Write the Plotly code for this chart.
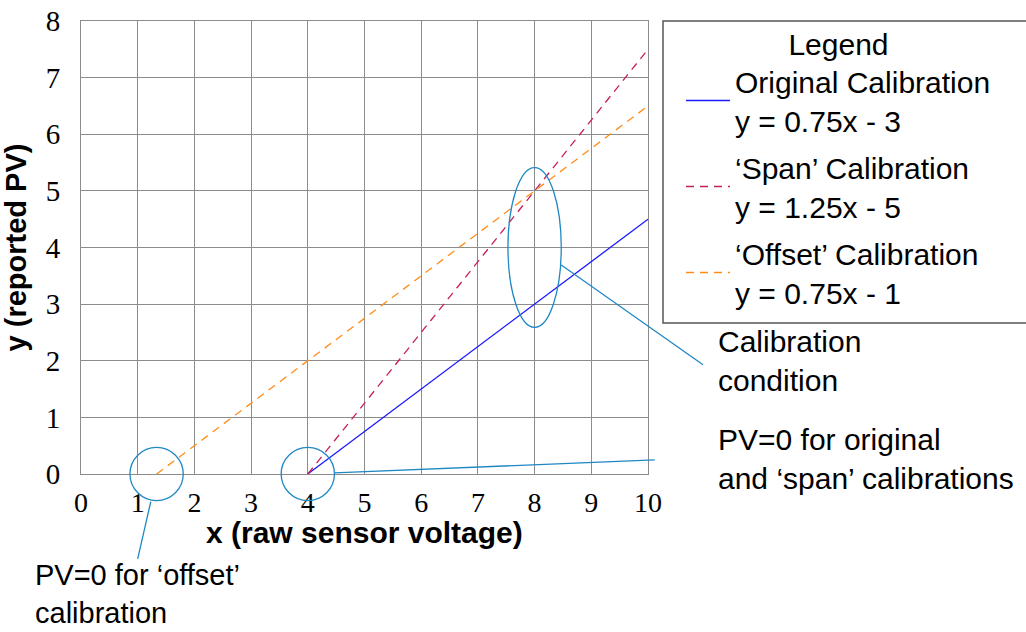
import plotly.graph_objects as go

# calibration lines (start/end points in data units)
orig_x = [4, 10]
orig_y = [0, 4.5]
span_x = [4, 10]
span_y = [0, 7.5]
offset_x = [4 / 3, 10]
offset_y = [0, 6.5]

x_ticks = list(range(0, 11))
y_ticks = list(range(0, 9))

names = ['Original Calibration<br>y = 0.75x - 3',
         '‘Span’ Calibration<br>y = 1.25x - 5',
         '‘Offset’ Calibration<br>y = 0.75x - 1']

W, H = 1026, 632
# plot area in pixels
L, R, T, B = 81, 648, 21, 474
XMAX, YMAX = 10, 8


def px_(x):
    # data x -> paper
    return x / XMAX


def py_(y):
    return y / YMAX


def ppx(p):
    # pixel x -> paper
    return (p - L) / (R - L)


def ppy(p):
    return (B - p) / (B - T)


sans = 'Liberation Sans, Arial, sans-serif'
serif = 'Liberation Serif, Times New Roman, serif'
callout = '#1f88c4'

fig = go.Figure()
fig.add_trace(go.Scatter(x=orig_x, y=orig_y, mode='lines', name=names[0],
                         line=dict(color='#1a1aff', width=1.3), legendgroup='a'))
fig.add_trace(go.Scatter(x=span_x, y=span_y, mode='lines', name=names[1],
                         line=dict(color='#c81e5a', width=1.3, dash='8px,6px'), legendgroup='b'))
fig.add_trace(go.Scatter(x=offset_x, y=offset_y, mode='lines', name=names[2],
                         line=dict(color='#ff8c1a', width=1.3, dash='8px,6px'), legendgroup='c'))

shapes = []
# legend box
shapes.append(dict(type='rect', xref='paper', yref='paper',
                   x0=ppx(663), x1=ppx(1030), y0=ppy(323), y1=ppy(21),
                   line=dict(color='#555555', width=1.5), fillcolor='white', layer='below'))
# ellipses
for cx, cy, rx, ry in [(8, 4, 0.47, 1.41), (4, 0, 0.47, 0.47), (4 / 3, 0, 0.47, 0.47)]:
    shapes.append(dict(type='circle', xref='paper', yref='paper',
                       x0=px_(cx - rx), x1=px_(cx + rx), y0=py_(cy - ry), y1=py_(cy + ry),
                       line=dict(color=callout, width=1.3)))
# connector lines
for x0, y0, x1, y1 in [(4.47, 0.02, 10.12, 0.25), (8.47, 3.69, 10.97, 1.93), (1.23, -0.49, 1.0, -1.5)]:
    shapes.append(dict(type='line', xref='paper', yref='paper',
                       x0=px_(x0), y0=py_(y0), x1=px_(x1), y1=py_(y1),
                       line=dict(color=callout, width=1.3)))

annots = [
    dict(text='Calibration<br>condition', x=ppx(716), y=ppy(361), size=30),
    dict(text='PV=0 for original<br>and ‘span’ calibrations', x=ppx(716), y=ppy(459), size=30),
    dict(text='PV=0 for ‘offset’<br>calibration', x=ppx(33), y=ppy(594), size=29),
]
for a in annots:
    a.update(xref='paper', yref='paper', xanchor='left', yanchor='middle', align='left',
             showarrow=False, font=dict(family=sans, size=a.pop('size'), color='black'))
# x axis title
annots.append(dict(text='<b>x (raw sensor voltage)</b>', x=ppx(364), y=ppy(532),
                   xref='paper', yref='paper', xanchor='center', yanchor='middle',
                   showarrow=False, font=dict(family=sans, size=30, color='black')))

fig.update_layout(
    width=W, height=H,
    margin=dict(l=L, r=W - R, t=T, b=H - B, autoexpand=False),
    plot_bgcolor='white', paper_bgcolor='white',
    shapes=shapes, annotations=annots,
    showlegend=True,
    legend=dict(x=ppx(681), y=ppy(16), xanchor='left', yanchor='top',
                bgcolor='rgba(0,0,0,0)', borderwidth=0, itemwidth=44,
                font=dict(family=sans, size=30, color='black'),
                title=dict(text='Legend', side='top center', font=dict(family=sans, size=30, color='black')),
                tracegroupgap=5),
)
fig.update_xaxes(range=[0, XMAX], tickvals=x_ticks, showgrid=True, gridcolor='#8c8c8c', gridwidth=1,
                 showline=True, linecolor='#8c8c8c', mirror=True, zeroline=False,
                 tickfont=dict(family=serif, size=28, color='black'), ticklabelstandoff=3)
fig.update_yaxes(range=[0, YMAX], tickvals=y_ticks, showgrid=True, gridcolor='#8c8c8c', gridwidth=1,
                 showline=True, linecolor='#8c8c8c', mirror=True, zeroline=False,
                 tickfont=dict(family=serif, size=29, color='black'), ticklabelstandoff=14,
                 title=dict(text='<b>y (reported PV)</b>', standoff=13,
                            font=dict(family=sans, size=29, color='black')))

# drop the default 8px page margin so the figure sits at the window corner
fig.write_html('out.html', config={'displayModeBar': False},
               post_script="document.body.style.margin='0';")
